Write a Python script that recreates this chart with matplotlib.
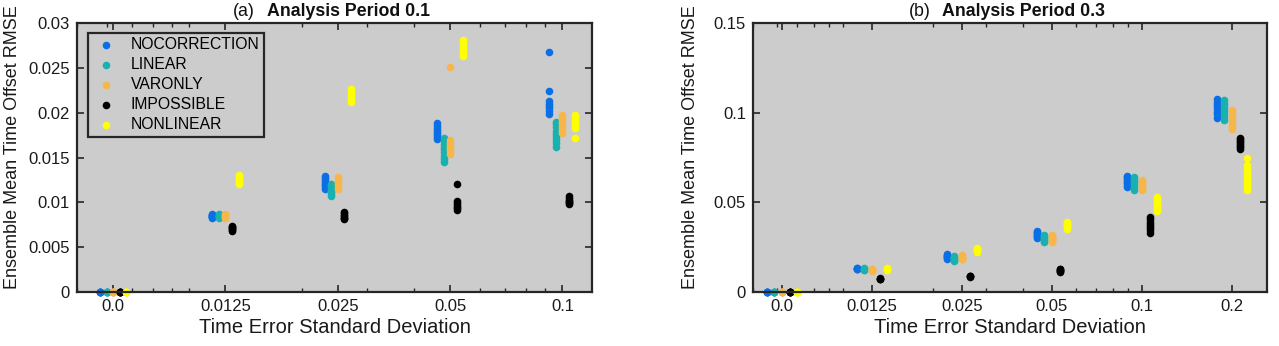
import matplotlib
matplotlib.use("Agg")
import matplotlib.pyplot as plt
from matplotlib.ticker import FixedLocator, FixedFormatter, LogLocator, NullFormatter, FormatStrFormatter

plt.rcParams['font.family'] = ['Liberation Sans', 'DejaVu Sans']

# ---------------- data ----------------
methods = ["NOCORRECTION", "LINEAR", "VARONLY", "IMPOSSIBLE", "NONLINEAR"]
colors = ["#0a6fe6", "#19b0b0", "#f6b64a", "#000000", "#ffff00"]

sigma_a = [0.0, 0.0125, 0.025, 0.05, 0.1]
xlabels_a = ["0.0", "0.0125", "0.025", "0.05", "0.1"]
sigma_b = [0.0, 0.0125, 0.025, 0.05, 0.1, 0.2]
xlabels_b = ["0.0", "0.0125", "0.025", "0.05", "0.1", "0.2"]

# Panel (a): Analysis Period 0.1  (one inner list per sigma)
a_nocorrection = [
    [0, 0, 0, 0, 0, 0],
    [0.0087, 0.0086, 0.0086, 0.0085, 0.0085, 0.0084, 0.0084, 0.0083],
    [0.0129, 0.0127, 0.0125, 0.0123, 0.0121, 0.0119, 0.0117, 0.0115],
    [0.0188, 0.0185, 0.0182, 0.0180, 0.0177, 0.0175, 0.0173, 0.0171],
    [0.0268, 0.0224, 0.0213, 0.0210, 0.0207, 0.0205, 0.0202, 0.0199],
]
a_linear = [
    [0, 0, 0, 0, 0, 0],
    [0.0087, 0.0086, 0.0085, 0.0085, 0.0084, 0.0083],
    [0.0121, 0.0119, 0.0117, 0.0115, 0.0113, 0.0111, 0.0109, 0.0107],
    [0.0172, 0.0168, 0.0165, 0.0162, 0.0159, 0.0156, 0.0152, 0.0148, 0.0145],
    [0.0190, 0.0187, 0.0184, 0.0180, 0.0176, 0.0173, 0.0170, 0.0166, 0.0162],
]
a_varonly = [
    [0, 0, 0, 0, 0, 0],
    [0.0087, 0.0086, 0.0085, 0.0084, 0.0083],
    [0.0128, 0.0126, 0.0124, 0.0122, 0.0120, 0.0117, 0.0115],
    [0.0251, 0.0169, 0.0166, 0.0164, 0.0162, 0.0160, 0.0157, 0.0154],
    [0.0197, 0.0194, 0.0191, 0.0188, 0.0185, 0.0182, 0.0179, 0.0177],
]
a_impossible = [
    [0, 0, 0, 0, 0, 0],
    [0.0074, 0.0073, 0.0072, 0.0071, 0.0070, 0.0069, 0.0068],
    [0.0089, 0.0088, 0.0086, 0.0085, 0.0083, 0.0082, 0.0081],
    [0.0120, 0.0101, 0.0099, 0.0097, 0.0095, 0.0094, 0.0092],
    [0.0107, 0.0105, 0.0103, 0.0102, 0.0100, 0.0099, 0.0098],
]
a_nonlinear = [
    [0, 0, 0, 0, 0, 0],
    [0.0130, 0.0128, 0.0126, 0.0124, 0.0122, 0.0120],
    [0.0226, 0.0223, 0.0220, 0.0218, 0.0215, 0.0212],
    [0.0281, 0.0279, 0.0276, 0.0273, 0.0270, 0.0267, 0.0265, 0.0263],
    [0.0197, 0.0195, 0.0192, 0.0190, 0.0187, 0.0185, 0.0183, 0.0172],
]

# Panel (b): Analysis Period 0.3
b_nocorrection = [
    [0, 0, 0, 0, 0, 0],
    [0.0134, 0.0132, 0.0130, 0.0128, 0.0126],
    [0.0213, 0.0208, 0.0203, 0.0198, 0.0193, 0.0189, 0.0186],
    [0.0342, 0.0336, 0.0330, 0.0324, 0.0318, 0.0312, 0.0306, 0.0303],
    [0.0649, 0.0641, 0.0633, 0.0625, 0.0616, 0.0608, 0.0598, 0.0586],
    [0.1076, 0.1062, 0.1048, 0.1035, 0.1020, 0.1006, 0.0992, 0.0972],
]
b_linear = [
    [0, 0, 0, 0, 0, 0],
    [0.0133, 0.0130, 0.0127, 0.0124, 0.0121],
    [0.0202, 0.0197, 0.0192, 0.0187, 0.0182, 0.0177, 0.0173],
    [0.0316, 0.0311, 0.0305, 0.0300, 0.0294, 0.0289, 0.0283, 0.0279],
    [0.0641, 0.0631, 0.0621, 0.0611, 0.0601, 0.0591, 0.0580, 0.0571],
    [0.1069, 0.1055, 0.1040, 0.1025, 0.1010, 0.0994, 0.0978, 0.0961],
]
b_varonly = [
    [0, 0, 0, 0, 0, 0],
    [0.0130, 0.0127, 0.0124, 0.0121, 0.0118],
    [0.0205, 0.0201, 0.0197, 0.0193, 0.0189, 0.0185, 0.0182],
    [0.0316, 0.0311, 0.0305, 0.0299, 0.0293, 0.0288, 0.0283, 0.0279],
    [0.0626, 0.0617, 0.0608, 0.0600, 0.0592, 0.0583, 0.0575, 0.0567],
    [0.1013, 0.0998, 0.0984, 0.0970, 0.0955, 0.0940, 0.0925, 0.0911],
]
b_impossible = [
    [0, 0, 0, 0, 0, 0],
    [0.0078, 0.0075, 0.0072, 0.0070],
    [0.0092, 0.0090, 0.0088, 0.0086],
    [0.0130, 0.0126, 0.0122, 0.0118, 0.0115, 0.0112],
    [0.0418, 0.0405, 0.0392, 0.0380, 0.0368, 0.0355, 0.0343, 0.0331],
    [0.0861, 0.0852, 0.0843, 0.0834, 0.0825, 0.0816, 0.0807, 0.0798],
]
b_nonlinear = [
    [0, 0, 0, 0, 0, 0],
    [0.0132, 0.0129, 0.0126, 0.0123],
    [0.0244, 0.0240, 0.0236, 0.0232, 0.0227, 0.0223],
    [0.0390, 0.0384, 0.0378, 0.0372, 0.0366, 0.0360, 0.0353],
    [0.0530, 0.0519, 0.0508, 0.0497, 0.0486, 0.0475, 0.0463, 0.0452],
    [0.0746, 0.0710, 0.0690, 0.0668, 0.0650, 0.0630, 0.0610, 0.0590, 0.0571],
]

yticks_a = [0, 0.005, 0.01, 0.015, 0.02, 0.025, 0.03]
yticks_b = [0, 0.05, 0.1, 0.15]

# ---------------- drawing ----------------
AXC = "#262626"
fig = plt.figure(figsize=(12.79, 3.46), dpi=100)
ax_a = fig.add_axes([77 / 1279, 54 / 346, 515 / 1279, 269 / 346])
ax_b = fig.add_axes([753 / 1279, 54 / 346, 514 / 1279, 269 / 346])


def draw(ax, sigmas, xlabels, series, step, xlim, ylim, yticks, ylab_x):
    pos = [s if s > 0 else sigmas[1] / 2 for s in sigmas]
    handles = []
    for k, (vals, c, name) in enumerate(zip(series, colors, methods)):
        fac = step ** (k - 2)
        xs, ys = [], []
        for p, group in zip(pos, vals):
            xs += [p * fac] * len(group)
            ys += group
        h = ax.scatter(xs, ys, s=30, c=c, linewidths=0, label=name, zorder=3,
                       clip_on=False)
        handles.append(h)
    ax.set_facecolor("#cccccc")
    ax.set_xscale("log")
    ax.set_xlim(*xlim)
    ax.set_ylim(*ylim)
    ax.xaxis.set_major_locator(FixedLocator(pos))
    ax.xaxis.set_major_formatter(FixedFormatter(xlabels))
    ax.xaxis.set_minor_locator(LogLocator(base=10, subs=tuple(range(1, 10)), numticks=20))
    ax.xaxis.set_minor_formatter(NullFormatter())
    ax.yaxis.set_major_locator(FixedLocator(yticks))
    ax.yaxis.set_major_formatter(FormatStrFormatter("%g"))
    ax.tick_params(which="both", direction="in", top=True, right=True,
                   colors=AXC, labelcolor="#1a1a1a", labelsize=12)
    ax.tick_params(which="major", length=5, width=1.2, pad=5)
    ax.tick_params(which="minor", length=3, width=1.0)
    for sp in ax.spines.values():
        sp.set_color(AXC)
        sp.set_linewidth(1.6)
        sp.set_zorder(4)
    ax.set_xlabel("Time Error Standard Deviation", fontsize=14.5, color="#1a1a1a", labelpad=3)
    ax.set_ylabel("Ensemble Mean Time Offset RMSE", fontsize=13, color="#1a1a1a")
    ax.yaxis.set_label_coords(ylab_x, 0.54)
    return handles


h = draw(ax_a, sigma_a, xlabels_a,
         [a_nocorrection, a_linear, a_varonly, a_impossible, a_nonlinear],
         1.041, (0.005, 0.12), (0, 0.03), yticks_a, -0.108)
draw(ax_b, sigma_b, xlabels_b,
     [b_nocorrection, b_linear, b_varonly, b_impossible, b_nonlinear],
     1.061, (0.005, 0.262), (0, 0.15), yticks_b, -0.105)

leg = ax_a.legend(handles=h, loc="upper left", bbox_to_anchor=(11 / 515, 1 - 10 / 269),
                  borderaxespad=0, fontsize=11.3, frameon=True, fancybox=False,
                  facecolor="#cccccc", edgecolor=AXC, framealpha=1,
                  handlelength=1.8, handletextpad=0.65, labelspacing=0.32,
                  borderpad=0.27, scatterpoints=1)
leg.get_frame().set_linewidth(1.6)
leg.set_zorder(5)

# titles: "(a)" regular + bold part, centred over each axes
fig.canvas.draw()
renderer = fig.canvas.get_renderer()
for ax, tag, main in [(ax_a, "(a)", "Analysis Period 0.1"), (ax_b, "(b)", "Analysis Period 0.3")]:
    bb = ax.get_position()
    cx = (bb.x0 + bb.x1) / 2 * 1279
    y = (346 - 12) / 346
    t1 = fig.text(0, y, tag, fontsize=12.8, va="center", ha="left", color="#111111")
    t2 = fig.text(0, y, main, fontsize=12.8, fontweight="bold", va="center", ha="left", color="#111111")
    w1 = t1.get_window_extent(renderer).width
    w2 = t2.get_window_extent(renderer).width
    gap = 12
    total = w1 + gap + w2
    x0 = cx - total / 2 - 3
    t1.set_x(x0 / 1279)
    t2.set_x((x0 + w1 + gap) / 1279)

fig.savefig("out.png", dpi=100, facecolor="white")
